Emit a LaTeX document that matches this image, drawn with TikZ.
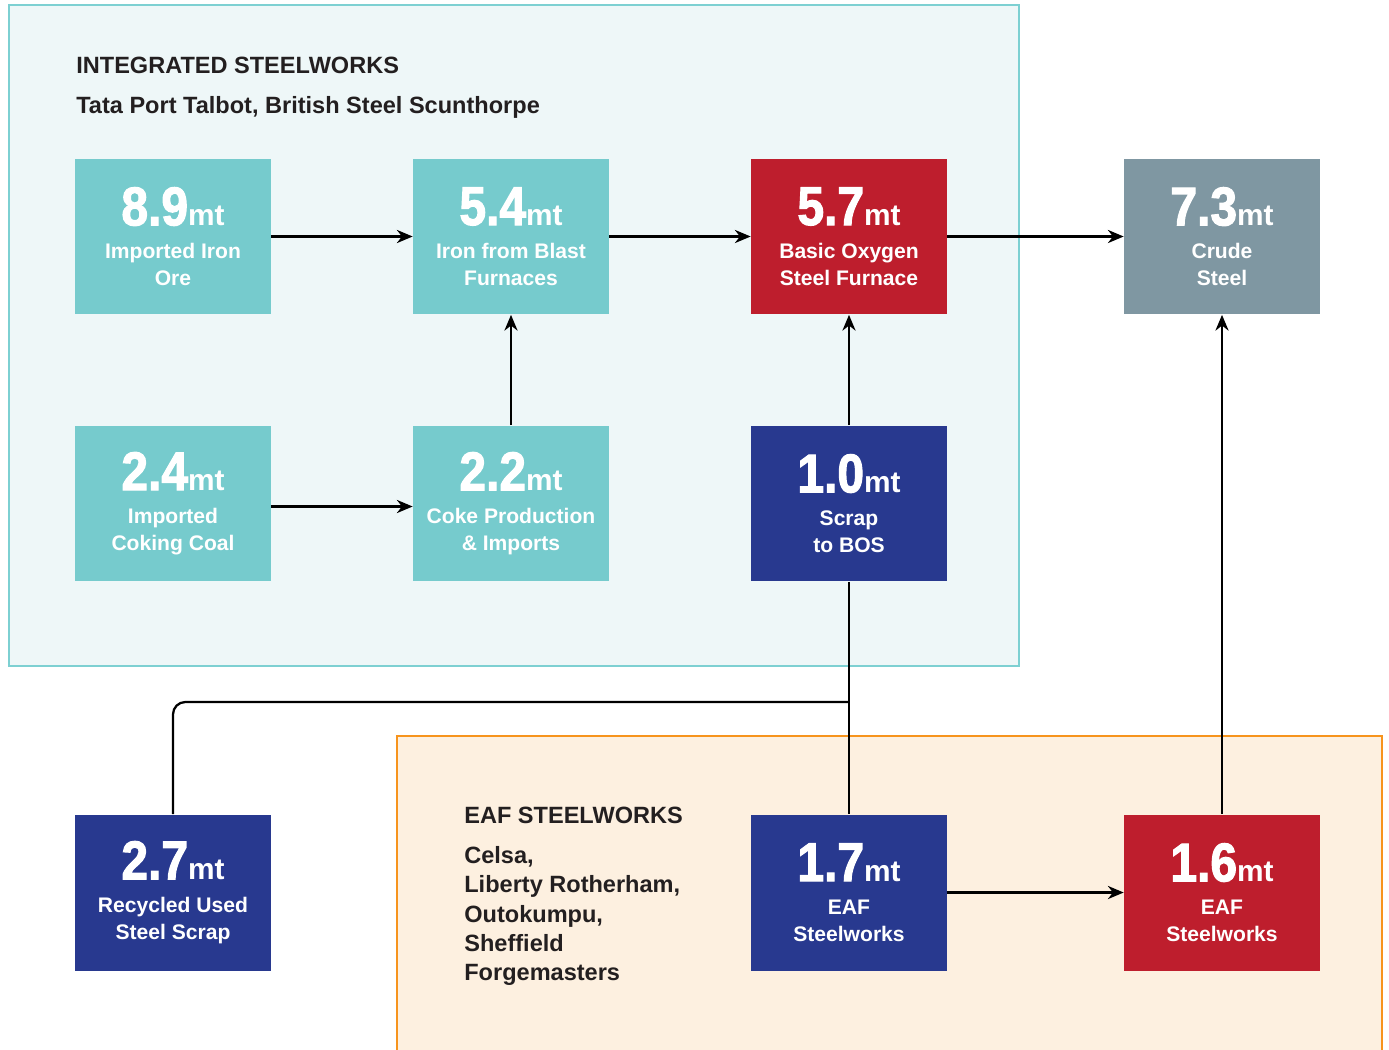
\documentclass[tikz,border=0pt]{standalone}
\usepackage{fontspec}
\setmainfont{Liberation Sans}
\newfontfamily\numfont{Liberation Sans}[BoldFeatures={FakeBold=2,FakeStretch=0.88}]
\usetikzlibrary{arrows.meta}

\definecolor{tealbox}{RGB}{118,203,205}
\definecolor{navybox}{RGB}{40,57,143}
\definecolor{redbox}{RGB}{190,30,45}
\definecolor{greybox}{RGB}{127,151,162}
\definecolor{intfill}{RGB}{238,247,248}
\definecolor{intline}{RGB}{125,208,210}
\definecolor{eaffill}{RGB}{253,240,224}
\definecolor{eafline}{RGB}{247,148,29}
\definecolor{inkgrey}{RGB}{35,31,32}

\tikzset{
  flowbox/.style={minimum width=3.92cm, minimum height=3.12cm, inner sep=0pt, text=white, align=center,
    font=\bfseries\fontsize{12}{15.3}\selectfont},
  flowline/.style={line width=1.3pt, -{Stealth[length=9pt,width=7.5pt]}},
  heading/.style={anchor=base west, inner sep=0pt, text=inkgrey, font=\bfseries\fontsize{13.4}{16.7}\selectfont}
}
\def\amount#1{{\numfont\bfseries\fontsize{31}{31}\selectfont #1}{\fontsize{17}{17}\selectfont mt}\\[3.7pt]}

\begin{document}
\begin{tikzpicture}[x=0.02cm, y=-0.02cm]
			%%%%% START %%%%%
			\useasboundingbox (0, 0) rectangle (1389, 1049);
			\clip (0, 0) rectangle (1389, 1049);
			
			% the two works
			\draw[line width=1.2pt, color=intline, fill=intfill] (9, 5) rectangle (1019, 666);
			\draw[line width=1.2pt, color=eafline, fill=eaffill] (397, 736) rectangle (1382, 1080);
			
			\node[heading] (inthead) at (76, 73) {INTEGRATED STEELWORKS};
			\node[heading] (intsites) at (76, 113) {Tata Port Talbot, British Steel Scunthorpe};
			
			\node[heading] (eafhead) at (464, 823) {EAF STEELWORKS};
			\node[heading, anchor=north west, align=left] (eafsites) at (464, 846)
			  {Celsa,\\Liberty Rotherham,\\Outokumpu,\\Sheffield\\Forgemasters};
			
			% boxes
			\node[flowbox, fill=tealbox] (ore) at (173, 236.5) {\amount{8.9}Imported Iron\\Ore};
			\node[flowbox, fill=tealbox] (iron) at (511, 236.5) {\amount{5.4}Iron from Blast\\Furnaces};
			\node[flowbox, fill=redbox] (bos) at (849, 236.5) {\amount{5.7}Basic Oxygen\\Steel Furnace};
			\node[flowbox, fill=greybox] (crude) at (1222, 236.5) {\amount{7.3}Crude\\Steel};
			
			\node[flowbox, fill=tealbox] (coal) at (173, 503.5) {\amount{2.4}Imported\\Coking Coal};
			\node[flowbox, fill=tealbox] (coke) at (511, 503.5) {\amount{2.2}Coke Production\\\& Imports};
			\node[flowbox, fill=navybox] (bosscrap) at (849, 503.5) {\amount{1.0}Scrap\\to BOS};
			
			\node[flowbox, fill=navybox] (recycled) at (173, 892.5) {\amount{2.7}Recycled Used\\Steel Scrap};
			\node[flowbox, fill=navybox] (eafin) at (849, 892.5) {\amount{1.7}EAF\\Steelworks};
			\node[flowbox, fill=redbox] (eafout) at (1222, 892.5) {\amount{1.6}EAF\\Steelworks};
			
			% flows
			\draw[flowline] (ore) -- (iron);
			\draw[flowline] (iron) -- (bos);
			\draw[flowline] (bos) -- (crude);
			\draw[flowline] (coal.east) ++(0, 3) -- (coke.west |- 0, 506.5);
			\draw[flowline] (coke) -- (iron);
			\draw[flowline] (bosscrap) -- (bos);
			\draw[flowline] (eafin) -- (eafout);
			\draw[flowline] (eafout) -- (crude);
			
			\coordinate (scrapjoin) at (849, 702);
			\draw[line width=1.3pt] (bosscrap.south) -- (eafin.north);
			\draw[line width=1.3pt, rounded corners=7pt] (recycled.north) |- (scrapjoin);
			
			%%%%% END %%%%%
		\end{tikzpicture}
\end{document}
